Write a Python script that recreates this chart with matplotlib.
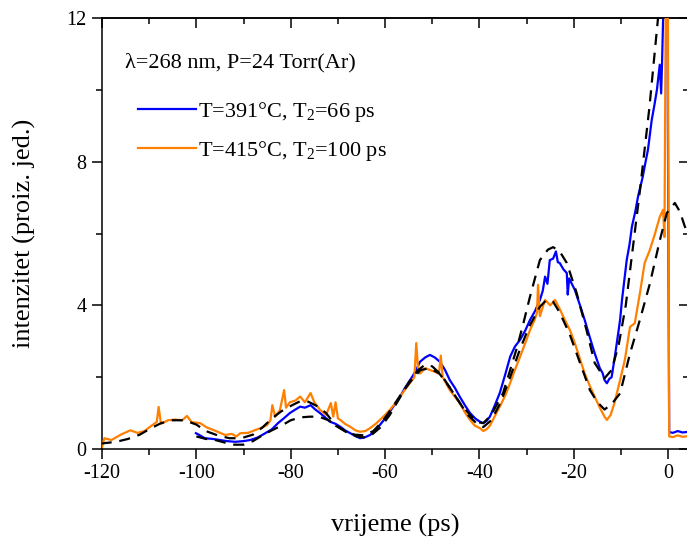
import matplotlib
matplotlib.use("Agg")
import matplotlib.pyplot as plt
from matplotlib.ticker import MultipleLocator

plt.rcParams['font.family'] = ['Liberation Serif', 'DejaVu Serif']
plt.rcParams['mathtext.fontset'] = 'custom'
plt.rcParams['mathtext.rm'] = 'Liberation Serif'
plt.rcParams['mathtext.it'] = 'Liberation Serif:italic'
plt.rcParams['axes.unicode_minus'] = False

# ---------------- data ----------------
orange_x = [-120.4, -120.0, -119.5, -118, -116, -114, -112.5, -111, -109.5, -108.4, -108.0, -107.5,
            -106, -104.5, -103, -102, -101, -99.2, -97.8, -96.4, -95, -93.9, -92.5, -91.5, -90.7,
            -89, -87.5, -86, -85, -84.3, -83.9, -83.3, -82.3, -81.4, -81, -80.2, -79, -78, -77,
            -75.8, -75, -73.8, -72.5, -71.5, -71, -70.5, -70, -69.5, -68.5, -67.4, -66.3, -65.3,
            -64.2, -63.2, -62, -61.1, -60, -59, -58, -56.8, -55.8, -54.7, -53.8, -53.4, -53.0,
            -52.6, -51.5, -50.5, -49.5, -48.6, -48.2, -47.8, -46.3, -45.2, -44.2, -43, -42, -41,
            -39.9, -39.2, -38.5, -37.8, -36.8, -35.7, -34.5, -33.5, -32.5, -31.4, -30.3, -29.3,
            -28.3, -27.8, -27.6, -27.2, -26.1, -25, -24, -23, -21.9, -20.8, -19.8, -18.7, -17.7,
            -16.6, -15.6, -14.5, -13.5, -13, -12.2, -11.4, -10.2, -9.2, -8.1, -7.1, -6, -5, -3.9,
            -2.8, -1.8, -1.1, -0.8, -0.5, -0.1, 0.2, 1, 2, 3, 4.4]
orange_y = [0.35, 0.05, 0.3, 0.25, 0.4, 0.52, 0.45, 0.5, 0.65, 0.75, 1.17, 0.7,
            0.8, 0.82, 0.8, 0.92, 0.75, 0.72, 0.6, 0.53, 0.45, 0.39, 0.42, 0.35, 0.44,
            0.45, 0.53, 0.6, 0.67, 0.8, 1.22, 0.9, 1.08, 1.64, 1.15, 1.3, 1.35, 1.46, 1.3,
            1.56, 1.3, 1.09, 0.95, 1.28, 0.9, 1.3, 0.85, 0.81, 0.7, 0.62, 0.52, 0.48,
            0.5, 0.58, 0.7, 0.81, 0.95, 1.09, 1.25, 1.46, 1.65, 1.84, 2.0, 2.95, 2.2,
            2.1, 2.25, 2.2, 2.15, 2.1, 2.6, 2.0, 1.64, 1.45, 1.28, 1.0, 0.81, 0.65,
            0.58, 0.5, 0.55, 0.65, 0.9, 1.18, 1.5, 1.84, 2.2, 2.57, 2.95, 3.31,
            3.6, 3.8, 4.57, 3.7, 4.15, 4.0, 4.15, 3.9, 3.59, 3.3, 2.95, 2.5, 2.1,
            1.75, 1.46, 1.15, 0.9, 0.81, 0.95, 1.28, 1.92, 2.48, 3.4, 3.5, 4.34, 5.18, 5.54,
            6.0, 6.46, 6.66, 5.9, 13.0, 13.0, 0.35, 0.33, 0.38, 0.34, 0.36]

blue_x = [-100.1, -99.5, -98.2, -96.5, -95, -93.5, -91.8, -90, -88.6, -87, -85.4, -84, -82.7,
          -81.5, -80.2, -79, -78, -77, -75.8, -74.8, -73.8, -72.7, -71.7, -70.5, -69.5, -68.5,
          -67.4, -66.3, -65.3, -64.2, -63.2, -62, -61.1, -60, -59, -57.9, -56.8, -55.8, -54.7,
          -53.6, -52.6, -51.5, -50.5, -49.5, -48.4, -47.3, -46.3, -45.2, -44.2, -43.1, -42,
          -40.9, -39.9, -39.2, -38.5, -37.8, -36.8, -35.7, -34.6, -33.5, -32.5, -31.4, -30.3,
          -29.3, -28.2, -27.2, -26.6, -26.1, -25.6, -25.1, -24.4, -23.8, -23.4, -23, -22.2,
          -21.5, -21.3, -21.0, -19.8, -18.7, -17.7, -16.6, -15.6, -14.5, -13.9, -13.5, -13,
          -12.5, -12, -11.4, -10.9, -10.2, -9.8, -8.8, -8.2, -7.7, -7, -6.4, -5.4, -4.8, -4.3,
          -3.5, -2.9, -2.4, -1.8, -1.5, -1.3, -1.1, -0.7, -0.2, 0.2, 1, 2, 3, 4.4]
blue_y = [0.44, 0.4, 0.3, 0.28, 0.25, 0.22, 0.2, 0.22, 0.25, 0.32, 0.44, 0.55, 0.72,
          0.85, 1.0, 1.1, 1.18, 1.15, 1.22, 1.1, 1.0, 0.88, 0.76, 0.7, 0.62, 0.52,
          0.44, 0.36, 0.3, 0.33, 0.39, 0.52, 0.67, 0.85, 1.04, 1.25, 1.46, 1.7, 1.92,
          2.15, 2.43, 2.55, 2.62, 2.55, 2.43, 2.2, 1.92, 1.7, 1.46, 1.22, 1.0,
          0.85, 0.76, 0.72, 0.78, 0.9, 1.2, 1.56, 2.05, 2.57, 2.85, 3.04, 3.3,
          3.59, 3.85, 4.15, 4.4, 4.8, 4.6, 5.26, 5.3, 5.5, 5.2, 5.18, 5.0,
          4.9, 4.3, 4.75, 4.43, 4.0, 3.59, 3.1, 2.67, 2.25, 2.11, 1.92, 1.83,
          1.95, 2.0, 2.5, 2.95, 3.6, 4.15, 5.26, 5.7, 6.19, 6.6, 7.03, 7.58, 8.0, 8.33,
          9.16, 9.6, 10.0, 10.7, 9.9, 10.8, 11.9, 13.0, 13.0, 0.47, 0.45, 0.5, 0.46, 0.48]

fit_o_x = [-120.3, -117, -114.5, -112, -110, -107.5, -105, -102.5, -100, -98, -95.5, -93, -90.5,
           -88, -86, -84, -82, -80, -78, -76.5, -74.5, -72.5, -70.5, -68.5, -66.5, -64.5, -62.5,
           -60.5, -58.5, -56.5, -54.5, -52.5, -50.5, -48.5, -46.5, -44.5, -42.5, -40.5, -39.2,
           -37.5, -35.5, -33.5, -31.5, -29.5, -27.2, -25.8, -24.4, -23, -20.9, -18.7, -16.6,
           -15, -13.5, -12, -10.2, -8.1, -6, -3.9, -1.8, -0.3, 1.4, 2.5, 3.5, 4.4]
fit_o_y = [0.15, 0.2, 0.28, 0.4, 0.55, 0.72, 0.8, 0.8, 0.68, 0.5, 0.38, 0.3, 0.3,
           0.4, 0.6, 0.85, 1.05, 1.2, 1.33, 1.33, 1.2, 1.0, 0.65, 0.5, 0.4, 0.38, 0.5,
           0.78, 1.15, 1.55, 1.9, 2.2, 2.25, 2.1, 1.75, 1.35, 0.95, 0.7, 0.61,
           0.8, 1.3, 2.0, 2.75, 3.4, 3.96, 4.15, 4.1, 3.8, 3.2, 2.4, 1.64,
           1.3, 1.1, 1.25, 1.55, 2.66, 3.6, 4.6, 5.8, 6.57, 6.85, 6.6, 6.2, 5.95]

fit_b_x = [-100, -98, -96, -94, -92, -90, -88, -86, -84, -82, -80, -78, -76, -74, -72, -70, -68,
           -66, -64.5, -63, -61, -59, -57, -55, -53, -51.5, -50, -48, -46, -44, -42, -40.5,
           -39.2, -37.5, -35, -33.5, -32, -30.7, -29.3, -27.2, -25.5, -24.4, -23, -21.5, -19.4,
           -17.3, -15.6, -13.5, -12, -10.5, -9, -7.5, -6, -4, -2.2, -1.5]
fit_b_y = [0.35, 0.28, 0.25, 0.18, 0.12, 0.12, 0.22, 0.38, 0.52, 0.65, 0.8, 0.88, 0.9, 0.9, 0.8,
           0.62, 0.45, 0.35, 0.32, 0.38, 0.6, 0.95, 1.4, 1.85, 2.2, 2.35, 2.3, 2.05, 1.65, 1.25,
           0.95, 0.75, 0.72, 0.95, 1.56, 2.2, 2.85, 3.5, 4.24, 5.26, 5.55, 5.62, 5.5, 5.18, 4.34,
           3.3, 2.4, 1.97, 2.2, 2.9, 4.0, 5.6, 7.2, 9.5, 11.95, 13.0]

label_blue = "T=391°C, T$_2$=66 ps"
label_orange = "T=415°C, T$_2$=100 ps"
annotation = "λ=268 nm, P=24 Torr(Ar)"
xlabel = "vrijeme (ps)"
ylabel = "intenzitet (proiz. jed.)"

# ---------------- figure ----------------
fig = plt.figure(figsize=(6.87, 5.37), dpi=100)
ax = fig.add_axes([102 / 687, 88 / 537, 587 / 687, 431 / 537])

ax.plot(blue_x, blue_y, color='#0000ff', lw=1.6, label=label_blue, zorder=2)
ax.plot(orange_x, orange_y, color='#ff8000', lw=1.6, label=label_orange, zorder=3)
ax.plot(fit_b_x, fit_b_y, color='black', lw=1.6, ls=(0, (5, 3.5)), zorder=4)
ax.plot(fit_o_x, fit_o_y, color='black', lw=1.6, ls=(0, (5, 3.5)), zorder=4)

ax.set_xlim(-120, 4.4)
ax.set_ylim(0, 12)

ax.xaxis.set_major_locator(MultipleLocator(20))
ax.xaxis.set_minor_locator(MultipleLocator(10))
ax.yaxis.set_major_locator(MultipleLocator(4))
ax.yaxis.set_minor_locator(MultipleLocator(2))

ax.tick_params(axis='both', which='major', direction='out', length=7, width=1.1,
               labelsize=14.5, pad=4)
ax.tick_params(axis='both', which='minor', direction='out', length=4, width=1.1)
ax.tick_params(top=False, right=False)

for s in ax.spines.values():
    s.set_linewidth(1.1)

secx = ax.secondary_xaxis('top')
secx.xaxis.set_major_locator(MultipleLocator(20))
secx.xaxis.set_minor_locator(MultipleLocator(10))
secx.tick_params(which='major', direction='in', length=7, width=1.1, labeltop=False)
secx.tick_params(which='minor', direction='in', length=4, width=1.1)
secx.spines['top'].set_linewidth(1.1)

secy = ax.secondary_yaxis('right')
secy.yaxis.set_major_locator(MultipleLocator(4))
secy.yaxis.set_minor_locator(MultipleLocator(2))
secy.tick_params(which='major', direction='in', length=7, width=1.1, labelright=False)
secy.tick_params(which='minor', direction='in', length=4, width=1.1)

ax.set_xlabel(xlabel, fontsize=19, labelpad=22)
ax.set_ylabel(ylabel, fontsize=19, labelpad=22)

ax.text(-115.1, 10.75, annotation, fontsize=16, va='center', ha='left')

leg = ax.legend(loc='upper left', bbox_to_anchor=(0.061, 0.81), frameon=False,
                fontsize=16, handlelength=2.6, handletextpad=0.12,
                borderpad=0, borderaxespad=0, labelspacing=0.68)

fig.savefig("out.png", dpi=100)
